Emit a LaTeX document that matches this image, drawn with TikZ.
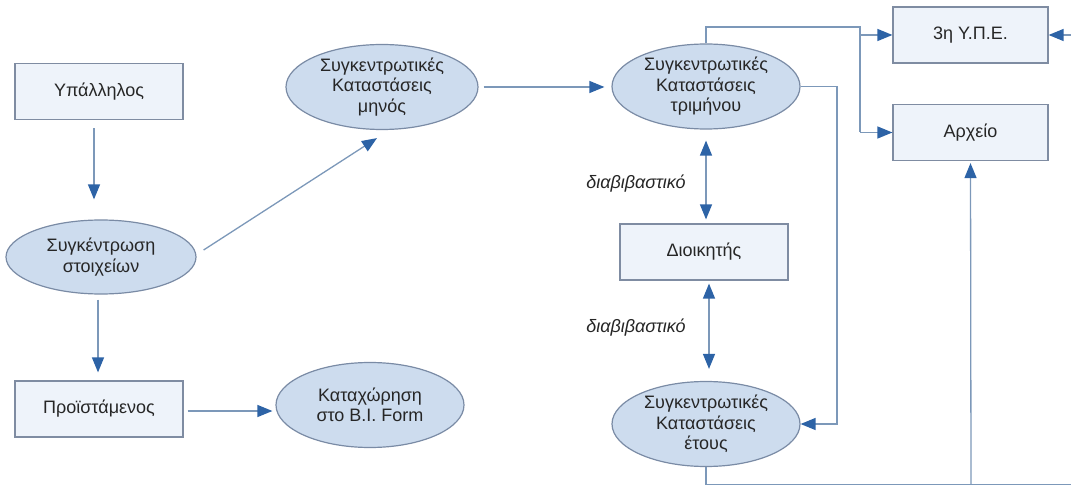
\documentclass[tikz,border=0pt]{standalone}
\usepackage{fontspec}
\setmainfont{Liberation Sans}
\usetikzlibrary{shapes.geometric,arrows.meta,calc}
\definecolor{boxfill}{HTML}{EEF3FA}
\definecolor{boxline}{HTML}{7F8CA2}
\definecolor{ellfill}{HTML}{CDDCEE}
\definecolor{ellline}{HTML}{7A8BA5}
\definecolor{wire}{HTML}{7C98B9}
\definecolor{tipcol}{HTML}{2D63A6}
\definecolor{txt}{HTML}{262626}
\begin{document}
\begin{tikzpicture}[x=1pt,y=-1pt,
  every node/.style={font=\fontsize{18}{20.5}\selectfont, text=txt, align=center},
  actor/.style={draw=boxline, fill=boxfill, line width=1.2pt, rectangle,
    minimum width=168pt, minimum height=56pt, inner sep=0pt},
  report/.style={draw=ellline, fill=ellfill, line width=1.2pt, ellipse,
    minimum width=#1, minimum height=85pt, inner sep=0pt},
  report/.default=188pt,
  flow/.style={draw=wire, line width=1.3pt},
  tip/.style={-{Triangle[length=15pt,width=12pt,fill=tipcol,color=tipcol]}},
  both/.style={{Triangle[length=15pt,width=12pt,fill=tipcol,color=tipcol]}-{Triangle[length=15pt,width=12pt,fill=tipcol,color=tipcol]}},
  note/.style={font=\itshape\fontsize{18}{20}\selectfont}]
\useasboundingbox (0,0) rectangle (1071,486);
\clip (0,0) rectangle (1071,486);

% nodes
\node[actor] (emp) at (99,91.5) {Υπάλληλος};
\node[report=190pt, minimum height=74pt] (col) at (101,257) {Συγκέντρωση\\στοιχείων};
\node[actor] (sup) at (99,409) {Προϊστάμενος};
\node[report] (entry) at (370,405) {Καταχώρηση\\στο B.I. Form};
\node[report=192pt] (month) at (382,87) {Συγκεντρωτικές\\Καταστάσεις\\μηνός};
\node[report] (quarter) at (706,86.5) {Συγκεντρωτικές\\Καταστάσεις\\τριμήνου};
\node[actor] (dir) at (704,252) {Διοικητής};
\node[report] (year) at (706,424) {Συγκεντρωτικές\\Καταστάσεις\\έτους};
\node[actor, minimum width=155pt] (ype) at (970.5,35) {3η Υ.Π.Ε.};
\node[actor, minimum width=155pt] (arch) at (970.5,132.5) {Αρχείο};

\node[note] (n1) at (636,184) {διαβιβαστικό};
\node[note] (n2) at (636,328) {διαβιβαστικό};

% junction points of the routed lines
\coordinate (topturn) at (860,27);
\coordinate (jype) at (860,35);
\coordinate (jarch) at (860,132.5);
\coordinate (rdrop) at (837,424);
\coordinate (bl) at (706,484.5);
\coordinate (bm) at (971,484.5);
\coordinate (br) at (1090,484.5);
\coordinate (rup) at (1090,35);

% connectors
\draw[flow,tip,shorten <=8pt,shorten >=20pt] ([xshift=-5pt]emp.south) -- ([xshift=-5pt]emp.south |- col.north);
\draw[flow,tip,shorten <=5pt,shorten >=8pt] ([xshift=-3pt]col.south) -- ([xshift=-3pt]col.south |- sup.north);
\draw[flow,tip,shorten <=4pt,shorten >=3pt] ([yshift=-2pt]sup.east) -- ([yshift=-2pt]sup.east -| entry.west);
\draw[flow,tip] ([xshift=7pt,yshift=7pt]col.east) -- ([xshift=-5pt,yshift=-8pt]month.south);
\draw[flow,tip,shorten <=5pt,shorten >=7pt] (month.east) -- (month.east -| quarter.west);

\draw[flow] (quarter.north) |- (topturn) -- (jarch);
\draw[flow,tip] (jype) -- (ype.west);
\draw[flow,tip] (jarch) -- (arch.west);
\draw[flow,tip] (quarter.east) -| (rdrop) -- (year.east);

\draw[flow,both,shorten <=11pt,shorten >=4pt] (quarter.south) -- (quarter.south |- dir.north);
\draw[flow,both,shorten <=3pt,shorten >=12pt] ([xshift=5pt]dir.south) -- ([xshift=5pt]dir.south |- year.north);

\draw[flow,tip] (year.south) -- (bl) -- (br) -- (rup) -- (ype.east);
\draw[flow,tip,shorten >=2pt] (bm) -- (arch.south);
\end{tikzpicture}
\end{document}
